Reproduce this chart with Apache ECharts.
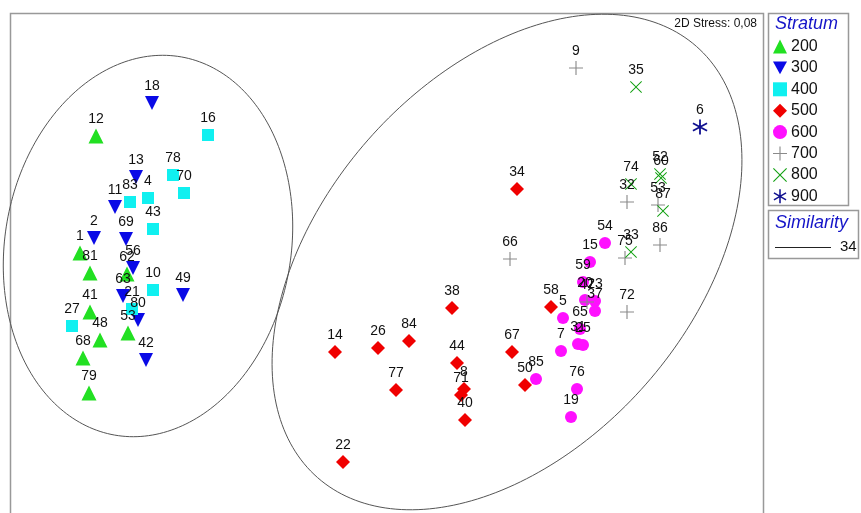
<!DOCTYPE html>
<html><head><meta charset="utf-8">
<script src="https://cdn.jsdelivr.net/npm/echarts@6/dist/echarts.min.js"></script>
<style>html,body{margin:0;padding:0;background:#fff}#c{width:861px;height:513px}</style>
</head><body><div id="c"></div>
<script>
// nMDS ordination coordinates (plot units), label = sample id
const s200 = [[96,136,'12'],[80,253,'1'],[90,273,'81'],[127,274,'62'],[90,312,'41'],[128,333,'53'],[100,340,'48'],[83,358,'68'],[89,393,'79']];
const s300 = [[152,103,'18'],[136,177,'13'],[115,207,'11'],[126,239,'69'],[94,238,'2'],[133,268,'56'],[123,296,'63'],[138,320,'80'],[183,295,'49'],[146,360,'42']];
const s400 = [[208,135,'16'],[173,175,'78'],[184,193,'70'],[130,202,'83'],[148,198,'4'],[153,229,'43'],[153,290,'10'],[132,309,'21'],[72,326,'27']];
const s500 = [[517,189,'34'],[452,308,'38'],[551,307,'58'],[335,352,'14'],[378,348,'26'],[409,341,'84'],[457,363,'44'],[512,352,'67'],[396,390,'77'],[464,389,'8'],[461,395,'71'],[465,420,'40'],[525,385,'50'],[343,462,'22']];
const s600 = [[605,243,'54'],[590,262,'15'],[583,282,'59'],[585,300,'20'],[595,301,'23'],[595,311,'37'],[580,329,'65'],[563,318,'5'],[578,344,'31'],[583,345,'25'],[561,351,'7'],[536,379,'85'],[577,389,'76'],[571,417,'19']];
const s700 = [[576,68,'9'],[510,259,'66'],[627,202,'32'],[658,205,'53'],[660,245,'86'],[625,258,'75'],[627,312,'72'],[587,302,'47']];
const s800 = [[636,87,'35'],[631,184,'74'],[660,174,'52'],[661,178,'60'],[663,211,'87'],[631,252,'33']];
const s900 = [[700,127,'6']];
const strata = ['200','300','400','500','600','700','800','900'];
const similarity = '34';
const stress = '2D Stress: 0,08';

// similarity contours approximated as ellipses: [cx, cy, a, b, angleDeg]
const hulls = [[148,246,192,143,80],[507,262,287,185,48.7]];

const sym = {
  tri: 'triangle',
  down: 'path://M0,0L20,0L10,18Z',
  sq: 'rect',
  dia: 'diamond',
  cir: 'circle',
  plus: 'path://M9.2,0H10.8V9.2H20V10.8H10.8V20H9.2V10.8H0V9.2H9.2Z',
  cross: 'path://M1.1,0L10,8.9L18.9,0L20,1.1L11.1,10L20,18.9L18.9,20L10,11.1L1.1,20L0,18.9L8.9,10L0,1.1Z',
  star: 'path://M8.9,0H11.1V20H8.9Z M18.11,4.05L19.21,5.95L1.89,15.95L0.79,14.05Z M1.89,4.05L19.21,14.05L18.11,15.95L0.79,5.95Z'
};
const styles = [
  {d:s200, c:'#22e022', s:sym.tri, z:15},
  {d:s300, c:'#0a0ae6', s:sym.down, z:14},
  {d:s400, c:'#10f0f0', s:sym.sq, z:12},
  {d:s500, c:'#f00000', s:sym.dia, z:14},
  {d:s600, c:'#ff10ff', s:sym.cir, z:12},
  {d:s700, c:'#8a8a8a', s:sym.plus, z:14},
  {d:s800, c:'#11a011', s:sym.cross, z:12},
  {d:s900, c:'#101090', s:sym.star, z:15}
];

function ellipse(h){
  const [cx,cy,a,b,ang]=h, p=ang*Math.PI/180, pts=[];
  for(let i=0;i<=240;i++){
    const t=i/240*2*Math.PI;
    const x=cx + a*Math.cos(p)*Math.cos(t) - b*Math.sin(p)*Math.sin(t);
    const y=cy - (a*Math.sin(p)*Math.cos(t) + b*Math.cos(p)*Math.sin(t));
    pts.push([x,y]);
  }
  return pts;
}

const FONT = '"Liberation Sans", Arial, sans-serif';
const series = [];
hulls.forEach(h=>series.push({type:'line', data:ellipse(h), symbol:'none', silent:true, z:1,
  lineStyle:{color:'#555', width:1}, animation:false}));
strata.forEach((n,i)=>{
  const st=styles[i];
  series.push({type:'scatter', name:n, data:st.d.map(r=>({value:[r[0],r[1]], name:r[2]})),
    symbol:st.s, symbolSize:st.z, itemStyle:{color:st.c, opacity:1},
    label:{show:true, position:'top', distance:Math.max(1, 9.5-st.z/2), formatter:p=>p.name, color:'#111', fontSize:14, fontFamily:FONT},
    labelLayout:{hideOverlap:false}, z:3, animation:false});
});

const chart = echarts.init(document.getElementById('c'));
chart.setOption({
  backgroundColor:'#fff',
  animation:false,
  grid:{left:0,right:0,top:0,bottom:0},
  xAxis:{type:'value', min:0, max:861, show:false},
  yAxis:{type:'value', min:0, max:513, inverse:true, show:false},
  legend:{data:strata, orient:'vertical', left:773, top:38.5, padding:0, itemWidth:14, itemHeight:14, itemGap:5.4,
    textStyle:{fontSize:16, lineHeight:14, color:'#111', fontFamily:FONT, padding:[0,0,0,-1]}, selectedMode:false},
  graphic:[
    {type:'rect', shape:{x:10.5,y:13.5,width:753,height:520}, style:{fill:'none', stroke:'#999', lineWidth:1.5}, z:0, silent:true},
    {type:'rect', shape:{x:768.5,y:13.5,width:80,height:192}, style:{fill:'none', stroke:'#999', lineWidth:1.5}, silent:true},
    {type:'rect', shape:{x:768.5,y:210.5,width:90,height:48}, style:{fill:'none', stroke:'#999', lineWidth:1.5}, silent:true},
    {type:'text', left:775, top:15, style:{text:'Stratum', fill:'#1414c8', font:'italic 18px '+FONT}},
    {type:'text', left:775, top:214, style:{text:'Similarity', fill:'#1414c8', font:'italic 18px '+FONT}},
    {type:'line', shape:{x1:775,y1:247.5,x2:831,y2:247.5}, style:{stroke:'#222', lineWidth:1}},
    {type:'text', left:840, top:239, style:{text:similarity, fill:'#111', font:'15px '+FONT}},
    {type:'text', right:104, top:18, style:{text:stress, fill:'#111', font:'12px '+FONT}}
  ],
  series:series
});
</script></body></html>
